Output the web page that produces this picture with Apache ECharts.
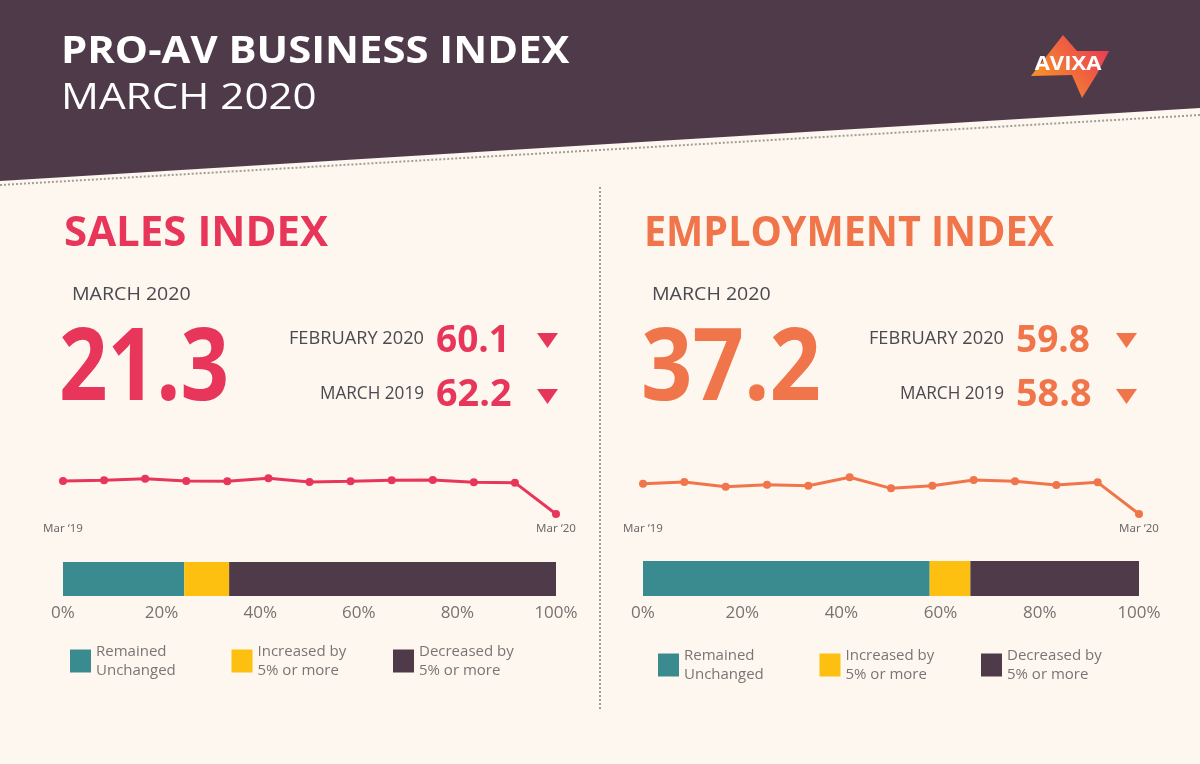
<!DOCTYPE html>
<html><head><meta charset="utf-8">
<script src="https://cdn.jsdelivr.net/npm/echarts@6/dist/echarts.min.js"></script>
<style>html,body{margin:0;padding:0;background:#FDF7F0}#c{width:1200px;height:764px}</style>
</head><body><div id="c"></div>
<script>
// ---- data ----
const months = ["Mar ‘19","Apr ‘19","May ‘19","Jun ‘19","Jul ‘19","Aug ‘19","Sep ‘19","Oct ‘19","Nov ‘19","Dec ‘19","Jan ‘20","Feb ‘20","Mar ‘20"];
const salesIndex = [62.2,63.1,65.0,62.2,61.8,65.5,61.0,61.8,63.1,63.4,60.6,60.1,21.3];
const employmentIndex = [58.8,60.0,56.7,58.1,57.4,63.4,55.5,57.4,61.4,60.5,57.9,59.8,37.2];
const responseCategories = ["Remained Unchanged","Increased by 5% or more","Decreased by 5% or more"];
const salesShares = [24.6, 9.1, 66.3];
const employmentShares = [57.8, 8.2, 34.0];
const shareTickStep = 20;
const headline = {
  sales: {title: "SALES INDEX", current: "21.3", prevLabel: "FEBRUARY 2020", prev: "60.1", yearLabel: "MARCH 2019", year: "62.2"},
  employment: {title: "EMPLOYMENT INDEX", current: "37.2", prevLabel: "FEBRUARY 2020", prev: "59.8", yearLabel: "MARCH 2019", year: "58.8"}
};

// ---- style ----
const RED = '#E8365A', ORANGE = '#F0754A', PLUM = '#4F3A4A', TEAL = '#3A8B90', YELLOW = '#FDC010';
const GRAY = '#4B4A50', LGRAY = '#7A7574';
const FF = '"Open Sans", "Noto Sans", sans-serif';
const chart = echarts.init(document.getElementById('c'));

function txt(text, x, y, size, weight, color, align, sx) {
  return {type:'text', x, y, scaleX: sx||1, z: 10,
    style:{text, font: weight + ' ' + size + 'px ' + FF, fill: color, align: align||'left', verticalAlign:'middle'}};
}
function tri(cx, cy, color) {
  return {type:'polygon', z:10, shape:{points:[[cx-10.5,cy-7.5],[cx+10.5,cy-7.5],[cx,cy+7.5]]}, style:{fill:color}};
}
function panel(h, dx, color, bigX, titleSX, bigSX) {
  return [
    txt(h.title, 64+dx, 234, 42, 'bold', color, 'left', titleSX),
    txt('MARCH 2020', 72+dx, 295, 19, 'normal', GRAY, 'left', 1.03),
    txt(h.current, bigX, 372, 100, 'bold', color, 'left', bigSX),
    txt(h.prevLabel, 424+dx, 339, 17.5, 'normal', GRAY, 'right', 1.04),
    txt(h.prev, 436+dx, 341, 37, 'bold', color, 'left', 1.0),
    txt(h.yearLabel, 424+dx, 394, 17.5, 'normal', GRAY, 'right', 0.98),
    txt(h.year, 436+dx, 395, 37, 'bold', color, 'left', 1.02)
  ];
}

const graphics = [
  {type:'polygon', z:1, shape:{points:[[0,0],[1200,0],[1200,108],[0,181]]}, style:{fill:PLUM}},
  {type:'line', z:1, shape:{x1:0,y1:185,x2:1200,y2:115}, style:{stroke:'#A39C98', lineWidth:2, lineDash:[2,2]}},
  {type:'line', z:1, shape:{x1:600,y1:187,x2:600,y2:709}, style:{stroke:'#A39C98', lineWidth:2, lineDash:[2,2]}},
  txt('PRO-AV BUSINESS INDEX', 61, 52, 37, 'bold', '#FFFFFF', 'left', 1.13),
  txt('MARCH 2020', 61, 98, 37, 'normal', '#FFFFFF', 'left', 1.14),
  {type:'polygon', z:5, shape:{points:[[1063,35],[1077,51],[1109,51],[1097,74],[1082,98],[1072,75],[1031,76]]},
   style:{fill:new echarts.graphic.LinearGradient(0,1,1,0,[{offset:0,color:'#F9A51F'},{offset:1,color:'#E8305A'}])}},
  txt('AVIXA', 1068, 64, 20, 'bold', '#FFFFFF', 'center', 1.1),
  ...panel(headline.sales, 0, RED, 59, 1.0, 0.85),
  ...panel(headline.employment, 580, ORANGE, 641, 0.94, 0.9),
  tri(547.5, 340.5, RED), tri(547.5, 396.5, RED),
  tri(1126.5, 340.5, ORANGE), tri(1126.5, 396.5, ORANGE)
];

const legendName = n => n.replace(/^(Remained|Increased by|Decreased by) /, '$1\n');
function legend(left, top) {
  return {left, top, padding:0, orient:'horizontal', selectedMode:false, data: responseCategories,
    icon:'rect', itemWidth:21, itemHeight:23, itemGap:10.5,
    formatter: legendName,
    textStyle:{color:LGRAY, fontSize:15, lineHeight:19, fontFamily:FF, width:125}};
}
const xShare = (gi) => ({type:'value', gridIndex:gi, min:0, max:100, interval:shareTickStep,
  axisLine:{show:false}, axisTick:{show:false}, splitLine:{show:false},
  axisLabel:{formatter:'{value}%', color:'#777270', fontSize:17, fontFamily:FF, margin:9}});
const xMonth = (gi) => ({type:'category', gridIndex:gi, data:months, boundaryGap:false,
  axisLine:{show:false}, axisTick:{show:false}, splitLine:{show:false},
  axisLabel:{interval:11, color:'#6E6A6A', fontSize:11.5, fontFamily:'"Noto Sans", sans-serif', margin:9}});
const yHidden = (gi, type) => ({type: type||'value', gridIndex:gi, show:false, scale:true,
  min: type ? undefined : 'dataMin', max: type ? undefined : 'dataMax', data: type ? ['share'] : undefined});

function barSeries(shares, xi, stack) {
  const cols = [TEAL, YELLOW, PLUM];
  return responseCategories.map((name, i) => ({type:'bar', name, stack, xAxisIndex:xi, yAxisIndex:xi,
    data:[shares[i]], barWidth:'100%', itemStyle:{color:cols[i]}, silent:true}));
}

chart.setOption({
  backgroundColor:'#FDF7F0',
  animation:false,
  graphic: graphics,
  legend: [legend(70, 642), legend(658, 646)],
  grid: [
    {left:63, width:493, top:478.3, height:35.7, outerBoundsMode:'none', containLabel:false},
    {left:643, width:496, top:477.3, height:36.7, outerBoundsMode:'none', containLabel:false},
    {left:63, width:493, top:562, height:34, outerBoundsMode:'none', containLabel:false},
    {left:643, width:496, top:561, height:35, outerBoundsMode:'none', containLabel:false}
  ],
  xAxis: [xMonth(0), xMonth(1), xShare(2), xShare(3)],
  yAxis: [yHidden(0), yHidden(1), yHidden(2,'category'), yHidden(3,'category')],
  series: [
    {type:'line', name:'Sales Index', xAxisIndex:0, yAxisIndex:0, data:salesIndex, symbol:'circle', symbolSize:8,
     lineStyle:{width:3, color:RED}, itemStyle:{color:RED}, silent:true},
    {type:'line', name:'Employment Index', xAxisIndex:1, yAxisIndex:1, data:employmentIndex, symbol:'circle', symbolSize:8,
     lineStyle:{width:3, color:ORANGE}, itemStyle:{color:ORANGE}, silent:true},
    ...barSeries(salesShares, 2, 'sales'),
    ...barSeries(employmentShares, 3, 'emp')
  ]
});
</script></body></html>
